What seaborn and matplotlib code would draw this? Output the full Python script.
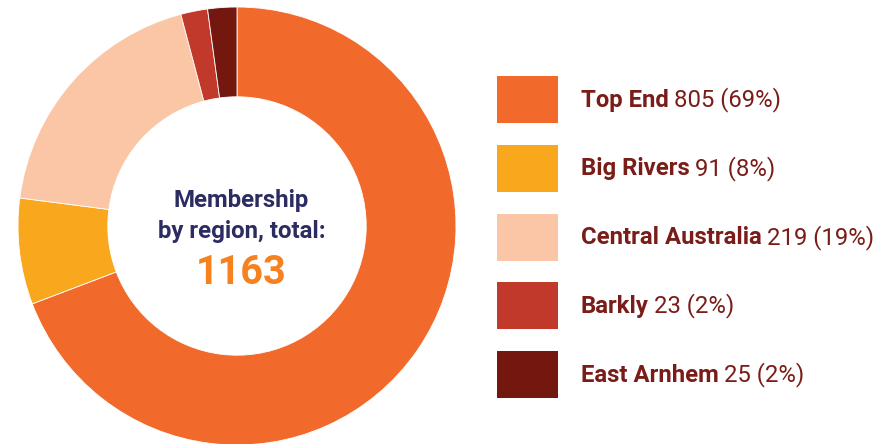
import matplotlib
matplotlib.use("Agg")
import matplotlib.pyplot as plt
import seaborn as sns

sns.set_theme(style="white")
plt.rcParams['font.family'] = ['Roboto', 'DejaVu Sans']

# data
regions = ["Top End", "Big Rivers", "Central Australia", "Barkly", "East Arnhem"]
members = [805, 91, 219, 23, 25]
shares = ["69%", "8%", "19%", "2%", "2%"]
colors = ["#f26a2b", "#f9a81e", "#fbc6a6", "#c0392b", "#74180f"]
total = 1163

W, H = 877, 444
fig = plt.figure(figsize=(W / 100, H / 100), dpi=100)

# donut, centre at (237, 226) px, radius 219 px
cx, cy, r = 237, 226, 219
ax = fig.add_axes([(cx - r) / W, (H - cy - r) / H, 2 * r / W, 2 * r / H])
ax.pie(members, colors=colors, startangle=90, counterclock=False,
       radius=1, wedgeprops=dict(width=0.41, edgecolor="white", linewidth=0.6))
ax.set_xlim(-1, 1)
ax.set_ylim(-1, 1)
ax.set_aspect("equal")
ax.axis("off")

navy = "#2b2d62"
tx = 0.02
ax.text(tx, 0.115, "Membership", ha="center", va="center", fontsize=17.3,
        fontweight="bold", color=navy)
ax.text(tx, -0.025, "by region, total:", ha="center", va="center", fontsize=17.3,
        fontweight="bold", color=navy)
ax.text(tx, -0.215, str(total), ha="center", va="center", fontsize=28.5,
        fontweight="bold", color="#f5821f")

# legend drawn in pixel coordinates
lax = fig.add_axes([0, 0, 1, 1])
lax.set_xlim(0, W)
lax.set_ylim(H, 0)
lax.axis("off")

txt_col = "#7a1c18"
fig.canvas.draw()
renderer = fig.canvas.get_renderer()
for i, (name, n, pct, c) in enumerate(zip(regions, members, shares, colors)):
    top = 76 + i * 68.8
    lax.add_patch(plt.Rectangle((497, top), 61, 47, color=c, lw=0))
    yc = top + 23.5
    t = lax.text(581, yc + 7, name, ha="left", va="baseline", fontsize=17.2,
                 fontweight="bold", color=txt_col)
    bb = t.get_window_extent(renderer=renderer)
    lax.text(bb.x1 + 5, yc + 7, f"{n} ({pct})", ha="left", va="baseline",
             fontsize=17.2, color=txt_col)

fig.savefig("out.png", dpi=100, facecolor="white")
